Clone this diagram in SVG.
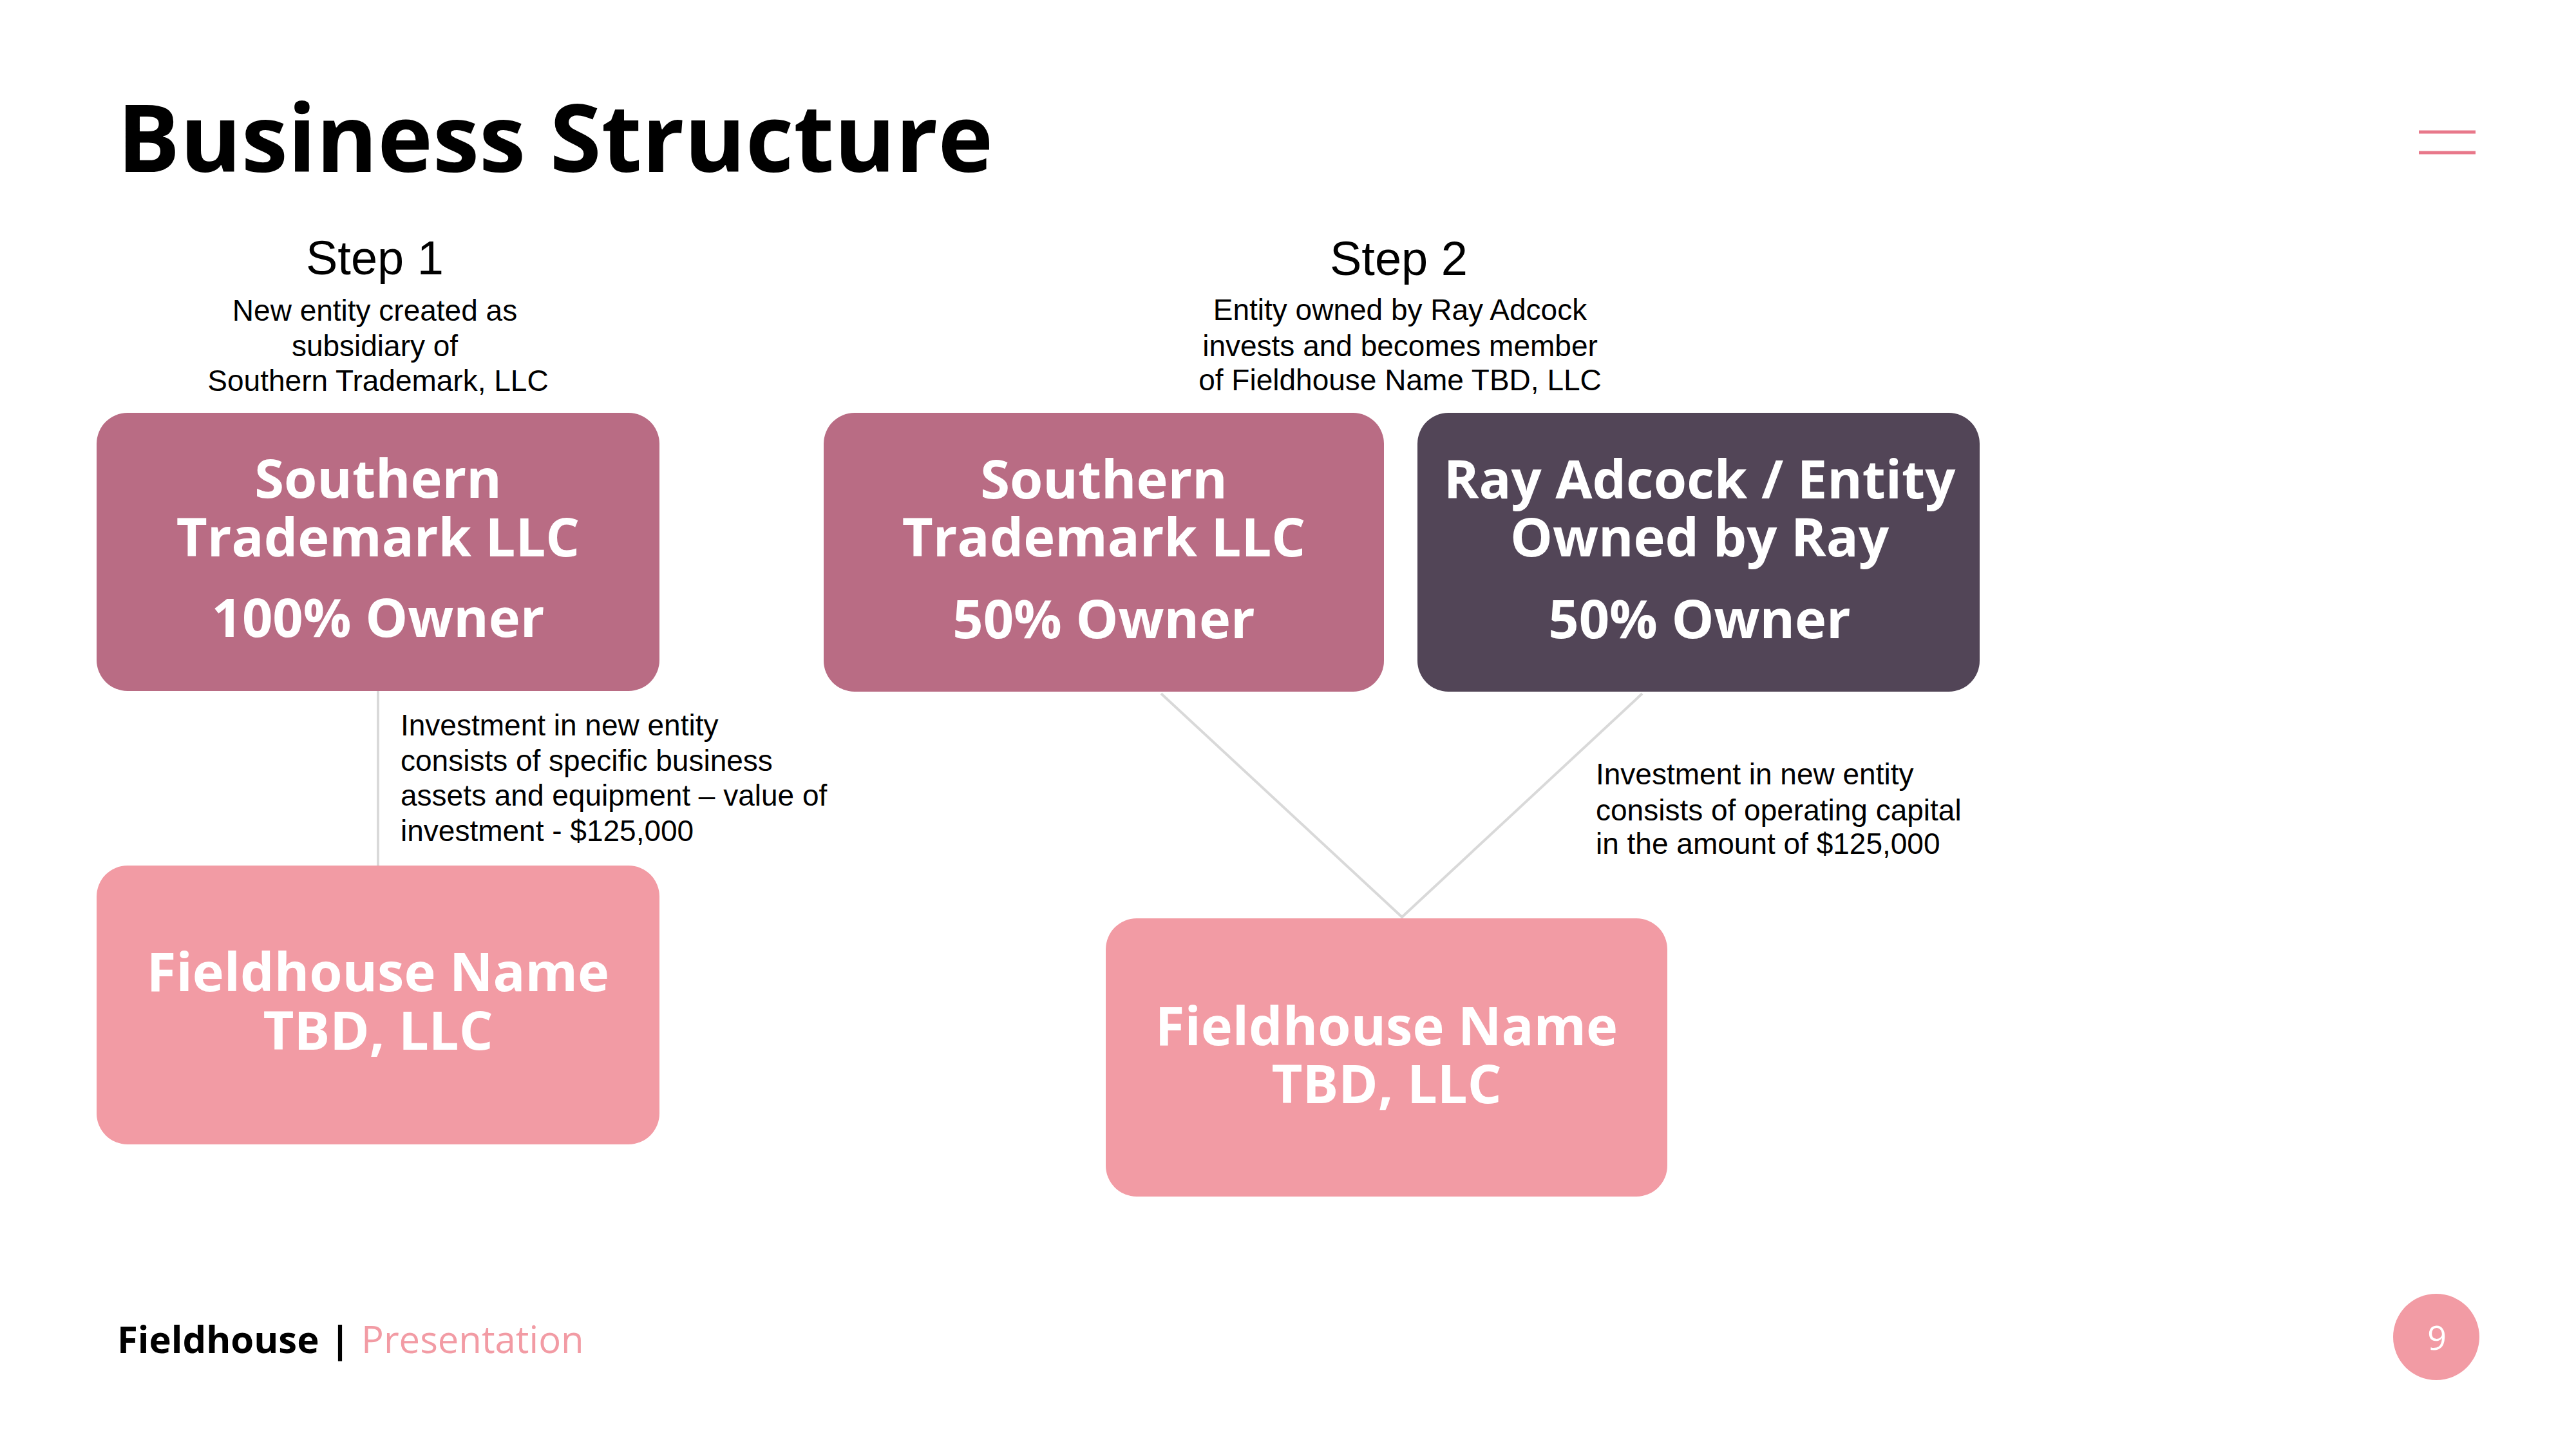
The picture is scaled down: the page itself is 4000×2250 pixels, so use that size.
<svg xmlns="http://www.w3.org/2000/svg" width="4000" height="2250" viewBox="0 0 4000 2250">
<style>
.title{font-family:"Open Sans","Liberation Sans",sans-serif;font-weight:700;font-size:145px;fill:#000}
.step{font-family:"Liberation Sans",Arial,sans-serif;font-size:74px;fill:#000;text-anchor:middle}
.sub{font-family:"Liberation Sans",Arial,sans-serif;font-size:46px;fill:#000;text-anchor:middle}
.note{font-family:"Liberation Sans",Arial,sans-serif;font-size:46px;fill:#000}
.box{font-family:"Open Sans","Liberation Sans",sans-serif;font-weight:700;font-size:83px;fill:#fff;text-anchor:middle}
.mauve{fill:#B96C84}
.dark{fill:#524557}
.pink{fill:#F29BA4}
.conn{stroke:#D9D9D9;stroke-width:4;fill:none}
.foot{font-family:"Open Sans","Liberation Sans",sans-serif;font-size:58px}
</style>
<rect width="4000" height="2250" fill="#fff"/>
<text class="title" x="182" y="267">Business Structure</text>
<g id="menu-icon" stroke="#E8788A" stroke-width="5">
<line x1="3756" y1="205" x2="3844" y2="205"/>
<line x1="3756" y1="237" x2="3844" y2="237"/>
</g>
<g id="step1-label">
<text class="step" x="582" y="426">Step 1</text>
<text class="sub" x="582" y="498">New entity created as</text>
<text class="sub" x="582" y="553">subsidiary of</text>
<text class="sub" x="587" y="607">Southern Trademark, LLC</text>
</g>
<g id="step2-label">
<text class="step" x="2172" y="427">Step 2</text>
<text class="sub" x="2174" y="497">Entity owned by Ray Adcock</text>
<text class="sub" x="2174" y="553">invests and becomes member</text>
<text class="sub" x="2174" y="606">of Fieldhouse Name TBD, LLC</text>
</g>
<g id="connectors">
<line class="conn" x1="587" y1="1073" x2="587" y2="1344"/>
<polyline class="conn" points="1803,1077 2177,1424 2550,1077"/>
</g>
<g id="node-southern-100">
<rect class="mauve" x="150" y="641" width="874" height="432" rx="48"/>
<text class="box" x="587" y="773">Southern</text>
<text class="box" x="587" y="864">Trademark LLC</text>
<text class="box" x="587" y="989">100% Owner</text>
</g>
<g id="node-fieldhouse-1">
<rect class="pink" x="150" y="1344" width="874" height="433" rx="48"/>
<text class="box" x="587" y="1539">Fieldhouse Name</text>
<text class="box" x="587" y="1630">TBD, LLC</text>
</g>
<g id="note-step1">
<text class="note" x="622" y="1142">Investment in new entity</text>
<text class="note" x="622" y="1197">consists of specific business</text>
<text class="note" x="622" y="1251">assets and equipment – value of</text>
<text class="note" x="622" y="1306">investment - $125,000</text>
</g>
<g id="node-southern-50">
<rect class="mauve" x="1279" y="641" width="870" height="433" rx="48"/>
<text class="box" x="1714" y="774">Southern</text>
<text class="box" x="1714" y="864">Trademark LLC</text>
<text class="box" x="1714" y="991">50% Owner</text>
</g>
<g id="node-ray-adcock">
<rect class="dark" x="2201" y="641" width="873" height="433" rx="48"/>
<text class="box" x="2639" y="774">Ray Adcock / Entity</text>
<text class="box" x="2639" y="864">Owned by Ray</text>
<text class="box" x="2639" y="991">50% Owner</text>
</g>
<g id="node-fieldhouse-2">
<rect class="pink" x="1717" y="1426" width="872" height="432" rx="48"/>
<text class="box" x="2153" y="1623">Fieldhouse Name</text>
<text class="box" x="2153" y="1713">TBD, LLC</text>
</g>
<g id="note-step2">
<text class="note" x="2478" y="1218">Investment in new entity</text>
<text class="note" x="2478" y="1274">consists of operating capital</text>
<text class="note" x="2478" y="1326">in the amount of $125,000</text>
</g>
<g id="footer">
<text class="foot" x="182" y="2101" font-weight="700" fill="#000">Fieldhouse</text>
<text class="foot" x="528" y="2101" font-weight="700" fill="#000" text-anchor="middle">|</text>
<text class="foot" x="561" y="2101" fill="#F29BA4">Presentation</text>
</g>
<g id="page-number">
<circle cx="3783" cy="2076" r="67" fill="#F29BA4"/>
<text x="3784" y="2096" font-family="'Open Sans','Liberation Sans',sans-serif" font-size="52" fill="#fff" text-anchor="middle">9</text>
</g>
</svg>
